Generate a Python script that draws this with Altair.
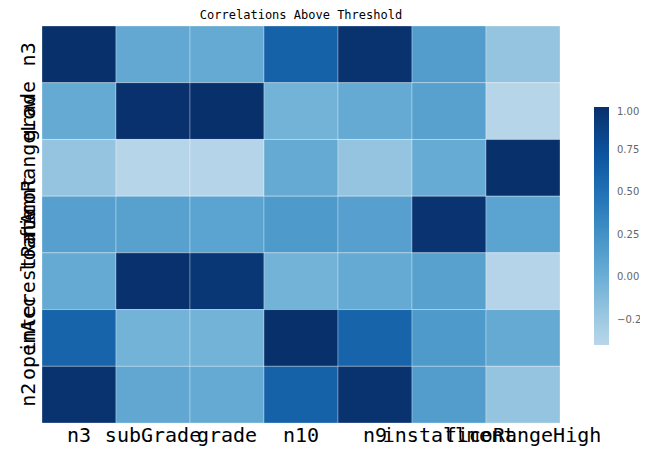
import altair as alt
import pandas as pd

cols = ["n3", "subGrade", "grade", "n10", "n9", "installment", "ficoRangeHigh"]
rows = ["n3", "grade", "ficoRangeLow", "loanAmnt", "interestRate", "openAcc", "n2"]

r_n3 = [1.00, 0.05, 0.04, 0.62, 0.98, 0.15, -0.20]
r_grade = [0.04, 0.99, 1.00, -0.04, 0.04, 0.12, -0.39]
r_ficoLow = [-0.20, -0.39, -0.38, 0.04, -0.20, 0.03, 1.00]
r_loan = [0.13, 0.12, 0.10, 0.18, 0.13, 0.97, 0.10]
r_rate = [0.04, 0.99, 0.95, -0.04, 0.04, 0.12, -0.38]
r_open = [0.60, -0.04, -0.04, 1.00, 0.60, 0.18, 0.04]
r_n2 = [0.98, 0.06, 0.04, 0.62, 0.98, 0.15, -0.20]

matrix = [r_n3, r_grade, r_ficoLow, r_loan, r_rate, r_open, r_n2]

records = []
for rname, vals in zip(rows, matrix):
    for cname, v in zip(cols, vals):
        records.append({"row": rname, "col": cname, "corr": v})
df = pd.DataFrame(records)

legend_ticks = [1.0, 0.75, 0.5, 0.25, 0.0, -0.25]
domain = [-0.4, -0.25, 0.0, 0.25, 0.5, 0.75, 1.0]
colors = ["#b9d6ea", "#9ecae1", "#6baed6", "#4292c6", "#2171b5", "#08519c", "#08306b"]

mono = "DejaVu Sans Mono"

chart = alt.Chart(df).mark_rect(stroke="white", strokeWidth=0.6, strokeOpacity=0.5).encode(
    x=alt.X("col:N", sort=cols, title=None,
            axis=alt.Axis(labelAngle=0, labelFont=mono, labelFontSize=20, labelColor="#000",
                          ticks=False, domain=False, labelPadding=2, labelLimit=1000,
                          labelOverlap=False, labelBaseline="top")),
    y=alt.Y("row:N", sort=rows, title=None,
            axis=alt.Axis(labelAngle=270, labelFont=mono, labelFontSize=20, labelColor="#000",
                          ticks=False, domain=False, labelPadding=4, labelLimit=1000,
                          labelOverlap=False, labelAlign="center", labelBaseline="bottom")),
    color=alt.Color("corr:Q",
                    scale=alt.Scale(domain=domain, range=colors, type="linear", clamp=True),
                    legend=alt.Legend(title=None, orient="none", legendX=552, legendY=81,
                                      direction="vertical", gradientLength=238, gradientThickness=15,
                                      values=legend_ticks, format=".2f", labelFontSize=10,
                                      labelColor="#666", labelFont="DejaVu Sans", labelOffset=8,
                                      padding=0, gradientStrokeWidth=0)),
).properties(
    width=518,
    height=397,
    title=alt.TitleParams("Correlations Above Threshold", font=mono, fontSize=12,
                          fontWeight="normal", color="#000", anchor="middle", offset=4),
    autosize=alt.AutoSizeParams(type="none"),
    padding={"left": 34, "top": 18, "right": 80, "bottom": 26},
).configure_view(stroke=None).configure_scale(bandPaddingInner=0, bandPaddingOuter=0)

chart.save("out.html", embed_options={"renderer": "svg", "actions": False})
